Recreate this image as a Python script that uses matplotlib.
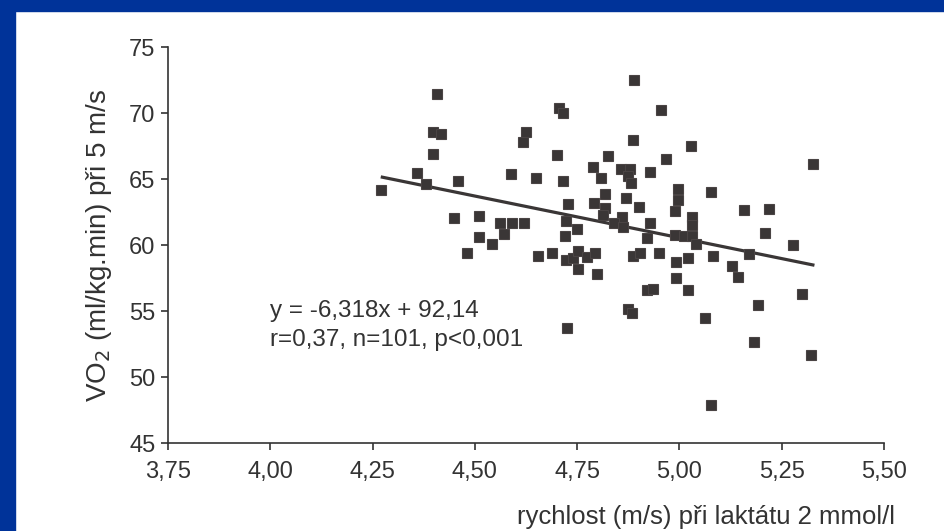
import numpy as np
import matplotlib.pyplot as plt
from matplotlib.patches import Rectangle

plt.rcParams['font.family'] = ['Liberation Sans', 'DejaVu Sans']

# speed at lactate 2 mmol/l (m/s) and VO2 at 5 m/s (ml/kg.min)
speed = [4.407, 4.397, 4.417, 4.398, 4.706, 4.716, 4.625, 4.618, 4.700, 4.270,
         4.359, 4.380, 4.459, 4.588, 4.650, 4.716, 4.789, 4.808, 4.727, 4.790,
         4.450, 4.510, 4.562, 4.590, 4.621, 4.722, 4.749, 4.571, 4.511, 4.720,
         4.543, 4.482, 4.654, 4.689, 4.722, 4.741, 4.751, 4.773, 4.794, 4.751,
         4.798, 4.725, 4.888, 4.955, 4.886, 5.028, 4.826, 4.966, 4.857, 4.878,
         4.875, 4.881, 4.928, 5.327, 4.818, 4.869, 4.997, 4.997, 5.078, 4.818,
         4.900, 4.989, 5.157, 5.220, 4.814, 4.859, 4.839, 4.863, 4.928, 5.030,
         5.030, 5.209, 4.920, 4.989, 5.010, 5.030, 5.278, 5.041, 4.886, 4.904,
         4.950, 4.991, 5.020, 5.081, 5.171, 5.129, 5.142, 4.992, 4.920, 4.936,
         5.020, 4.874, 4.885, 5.063, 5.300, 5.191, 5.182, 5.322, 5.077]
vo2 = [71.42, 68.54, 68.41, 66.87, 70.40, 70.02, 68.54, 67.80, 66.82, 64.17,
       65.43, 64.60, 64.85, 65.38, 65.10, 64.83, 65.89, 65.05, 63.08, 63.20,
       62.05, 62.22, 61.69, 61.69, 61.69, 61.84, 61.21, 60.83, 60.63, 60.68,
       60.08, 59.42, 59.17, 59.42, 58.86, 58.99, 59.57, 59.07, 59.37, 58.16,
       57.78, 53.73, 72.52, 70.20, 67.95, 67.50, 66.77, 66.49, 65.76, 65.76,
       65.23, 64.67, 65.55, 66.11, 63.84, 63.58, 64.24, 63.41, 63.99, 62.83,
       62.90, 62.60, 62.63, 62.70, 62.27, 62.14, 61.64, 61.39, 61.64, 62.14,
       61.52, 60.93, 60.51, 60.76, 60.70, 60.70, 60.00, 60.08, 59.19, 59.37,
       59.37, 58.69, 59.04, 59.17, 59.30, 58.43, 57.58, 57.48, 56.59, 56.64,
       56.59, 55.15, 54.87, 54.45, 56.27, 55.45, 52.63, 51.67, 47.88]

# regression y = -6.318x + 92.14 over the data range
slope = -6.318
intercept = 92.14
fit_x = [4.27, 5.33]

x_ticks = [3.75, 4.00, 4.25, 4.50, 4.75, 5.00, 5.25, 5.50]
y_ticks = [45, 50, 55, 60, 65, 70, 75]

ink = '#3a3636'
text_col = '#333333'

fig = plt.figure(figsize=(9.45, 5.31), dpi=100)
fig.patch.set_facecolor('white')

# slide frame
fig.add_artist(Rectangle((0, 1 - 11/531), 1, 11/531, transform=fig.transFigure,
                         color='#003399', zorder=0))
fig.add_artist(Rectangle((0, 0), 15/945, 1, transform=fig.transFigure,
                         color='#003399', zorder=0))

ax = fig.add_axes([168/945, 88/531, 716/945, 396/531])
ax.set_facecolor('white')

fx = np.array(fit_x)
ax.plot(fx, slope * fx + intercept, color=ink, lw=2.3, zorder=2, solid_capstyle='butt')
ax.plot(speed, vo2, ls='none', marker='s', ms=7.8, mfc=ink, mec='#4a4444',
        mew=0.8, zorder=3)

ax.set_xlim(3.75, 5.50)
ax.set_ylim(45, 75)
ax.set_xticks(x_ticks)
ax.set_xticklabels([f'{v:.2f}'.replace('.', ',') for v in x_ticks])
ax.set_yticks(y_ticks)
ax.set_yticklabels([str(v) for v in y_ticks])

for s in ['top', 'right']:
    ax.spines[s].set_visible(False)
for s in ['left', 'bottom']:
    ax.spines[s].set_color(text_col)
    ax.spines[s].set_linewidth(1.2)
ax.tick_params(direction='out', length=5, width=1.2, color=text_col,
               labelcolor=text_col, labelsize=17)
ax.tick_params(axis='x', pad=8)
ax.tick_params(axis='y', pad=4)

ax.set_ylabel('VO$_2$ (ml/kg.min) při 5 m/s', fontsize=20, color=text_col, va='center')
ax.yaxis.set_label_coords(-0.0964, 0.5)
ax.set_xlabel('rychlost (m/s) při laktátu 2 mmol/l', fontsize=18.5, color=text_col,
              ha='right', va='center')
ax.xaxis.set_label_coords(1.015, -0.187)

ax.text(4.00, 55.0, 'y = -6,318x + 92,14', fontsize=17.5, color=text_col, va='center')
ax.text(4.00, 52.8, 'r=0,37, n=101, p<0,001', fontsize=17.5, color=text_col, va='center')

fig.savefig('out.png', dpi=100)
